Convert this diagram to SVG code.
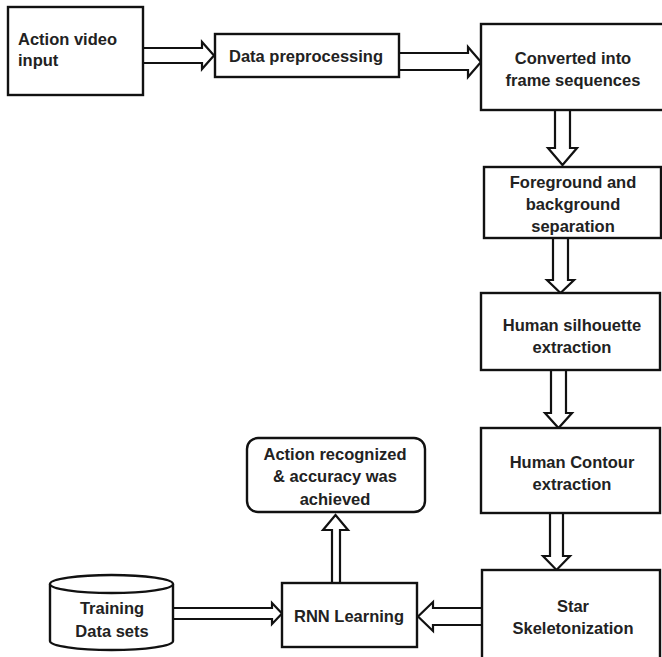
<svg xmlns="http://www.w3.org/2000/svg" width="662" height="657" viewBox="0 0 662 657">
<style>
.box{fill:#fff;stroke:#111;stroke-width:2.4}
.arr{fill:#fff;stroke:#111;stroke-width:2.2;stroke-linejoin:miter}
text{font-family:"Liberation Sans",Arial,sans-serif;font-weight:bold;font-size:16.5px;fill:#222}
.c{text-anchor:middle}
</style>
<rect width="662" height="657" fill="#fff"/>
<g id="connectors">
<path class="arr" d="M143,48 H202 V42 L214,55.5 L202,69 V63 H143"/>
<path class="arr" d="M399,53 H468 V47 L481,62 L468,77 V70 H399"/>
<path class="arr" d="M555,110 V148 H548 L562.5,165 L577,148 H570 V110"/>
<path class="arr" d="M553,238 V280 H547 L560.5,293 L574,280 H568 V238"/>
<path class="arr" d="M551,370 V413 H545 L558.5,428 L572,413 H566 V370"/>
<path class="arr" d="M550,513 V556 H543 L556.5,570 L570,556 H563 V513"/>
<path class="arr" d="M482,608 H433 V602 L418,616.5 L433,631 V625 H482"/>
<path class="arr" d="M173,608 H272 V603 L282,613.5 L272,624 V619 H173"/>
<path class="arr" d="M332,583 V530 H323 L335.5,515 L348,530 H340 V583"/>
</g>
<g id="n1"><rect class="box" x="8" y="7" width="135" height="88"/>
<text x="18" y="45">Action video</text><text x="18" y="66">input</text></g>
<g id="n2"><rect class="box" x="215" y="34" width="184" height="43"/>
<text class="c" x="306" y="62">Data preprocessing</text></g>
<g id="n3"><rect class="box" x="481" y="24" width="190" height="86"/>
<text class="c" x="573" y="64">Converted into</text><text class="c" x="573" y="86">frame sequences</text></g>
<g id="n4"><rect class="box" x="484" y="167" width="177" height="71"/>
<text class="c" x="573" y="188">Foreground and</text><text class="c" x="573" y="210">background</text><text class="c" x="573" y="232">separation</text></g>
<g id="n5"><rect class="box" x="481" y="293" width="179" height="77"/>
<text class="c" x="572" y="331">Human silhouette</text><text class="c" x="572" y="353">extraction</text></g>
<g id="n6"><rect class="box" x="481" y="428" width="179" height="85"/>
<text class="c" x="572" y="468">Human Contour</text><text class="c" x="572" y="490">extraction</text></g>
<g id="n7"><rect class="box" x="482" y="570" width="178" height="95"/>
<text class="c" x="573" y="612">Star</text><text class="c" x="573" y="634">Skeletonization</text></g>
<g id="n8"><rect class="box" x="282" y="583" width="135" height="64"/>
<text class="c" x="349" y="622">RNN Learning</text></g>
<g id="n9"><rect class="box" x="247" y="438" width="178" height="74" rx="11"/>
<text class="c" x="335" y="460">Action recognized</text><text class="c" x="335" y="482">&amp; accuracy was</text><text class="c" x="335" y="505">achieved</text></g>
<g id="n10"><path class="box" d="M50,584 A61.5,9 0 0,1 173,584 V641 A61.5,9 0 0,1 50,641 Z"/>
<path class="box" fill="none" d="M50,584 A61.5,9 0 0,0 173,584"/>
<text class="c" x="112" y="614">Training</text><text class="c" x="112" y="637">Data sets</text></g>
</svg>
